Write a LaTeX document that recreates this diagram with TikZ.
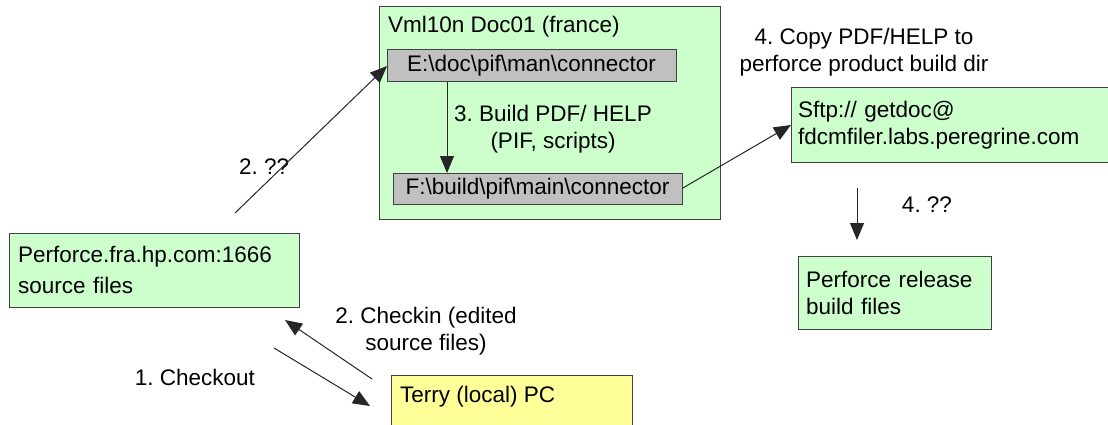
\documentclass[tikz,border=0pt]{standalone}
\usepackage{fontspec}
\setmainfont{Liberation Sans}
\usetikzlibrary{arrows.meta}
\definecolor{boxgreen}{HTML}{CCFFCC}
\definecolor{boxgray}{HTML}{C0C0C0}
\definecolor{boxyellow}{HTML}{FFFF99}
\definecolor{edgecol}{HTML}{404040}
\frenchspacing
\begin{document}
\begin{tikzpicture}[x=1pt,y=-1pt,
  every node/.style={font=\fontsize{22.5}{27}\selectfont, text=black},
  box/.style={draw=edgecol, line width=1pt, rectangle, anchor=north west, inner ysep=0pt, outer sep=0pt},
  txt/.style={inner sep=0pt, align=center},
  arr/.style={draw=black!85, line width=1pt, -{Triangle[length=17pt,width=14pt]}}
]
\useasboundingbox (0,0) rectangle (1108,425);
\clip (0,0) rectangle (1108,425);
\fill[white] (0,0) rectangle (1108,425);

% container
\node[box, fill=boxgreen, minimum width=341pt, minimum height=212pt] (vml) at (379,7) {};
\node[txt, anchor=west] (vmlt) at (388,27) {Vml10n Doc01 (france)};
\node[box, fill=boxgray, minimum width=289pt, minimum height=32pt] (E) at (387,50)
  {E:\textbackslash doc\textbackslash pif\textbackslash man\textbackslash connector};
\node[box, fill=boxgray, minimum width=289pt, minimum height=31pt] (F) at (393,173)
  {F:\textbackslash build\textbackslash pif\textbackslash main\textbackslash connector};

% other boxes
\node[box, fill=boxgreen, text width=326pt, inner xsep=7pt, align=left, minimum height=74pt] (sftp) at (791,88)
  {Sftp:// getdoc@\\fdcmfiler.labs.peregrine.com};
\node[box, fill=boxgreen, text width=272pt, inner xsep=9pt, align=left, minimum height=74pt] (p4) at (9,233)
  {Perforce.fra.hp.com:1666\\[4pt]source files};
\node[box, fill=boxgreen, text width=177pt, inner xsep=8pt, align=left, minimum height=73pt] (rel) at (798,256)
  {Perforce release\\build files};
\node[box, fill=boxyellow, minimum width=241pt, minimum height=80pt] (terry) at (391,375) {};
\node[txt, anchor=west] (terryt) at (400,397) {Terry (local) PC};

% labels
\node[txt] (l3) at (553,129) {3. Build PDF/ HELP\\(PIF, scripts)};
\node[txt] (l4) at (864,52) {4. Copy PDF/HELP to\\perforce product build dir};
\node[txt, anchor=west] (l2) at (239,167) {2. ??};
\node[txt] (l1) at (195,377) {1. Checkout};
\node[txt] (l2c) at (426,331) {2. Checkin (edited\\source files)};
\node[txt] (l44) at (927,205) {4. ??};

% connector free ends
\coordinate (c2s) at (235,213);
\coordinate (c4s) at (857,188);
\coordinate (c4e) at (857,240);
\coordinate (c1s) at (274,348);
\coordinate (c1e) at (370,406);
\coordinate (cis) at (372,379);
\coordinate (cie) at (285,320);

% connectors
\draw[arr] (c2s) -- (E.west);
\draw[arr] ([xshift=60pt]E.south west) -- ([xshift=54pt]F.north west);
\draw[arr] (F.east) -- (sftp.west);
\draw[arr] (c4s) -- (c4e);
\draw[arr] (c1s) -- (c1e);
\draw[arr] (cis) -- (cie);
\end{tikzpicture}
\end{document}
